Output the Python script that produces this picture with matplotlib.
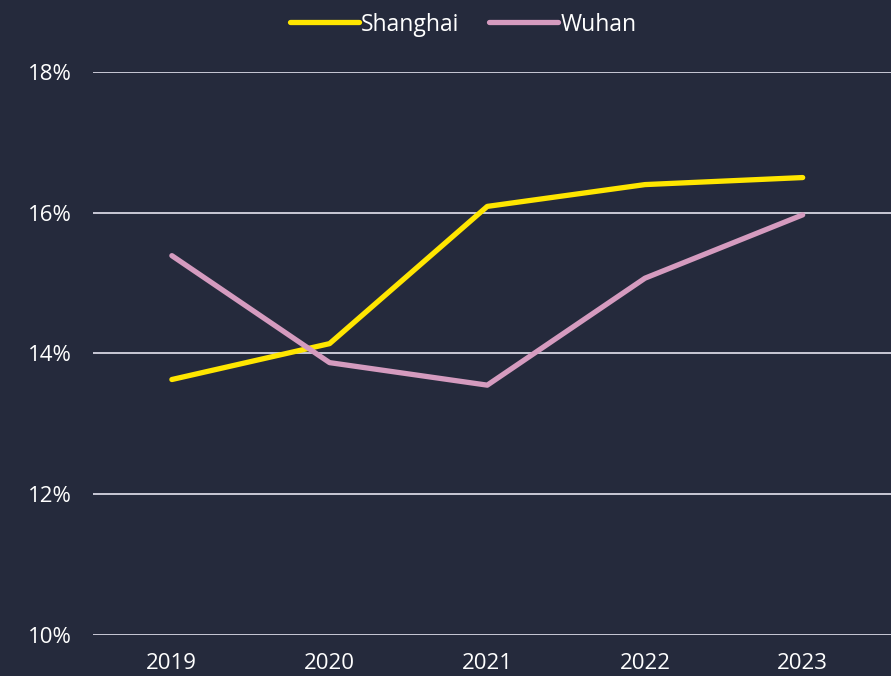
import matplotlib.pyplot as plt

years = ['2019', '2020', '2021', '2022', '2023']
shanghai = [13.63, 14.14, 16.09, 16.40, 16.50]
wuhan = [15.39, 13.87, 13.55, 15.07, 15.97]
yticks = [10, 12, 14, 16, 18]

bg = '#252a3c'
plt.rcParams['font.family'] = ['Open Sans', 'DejaVu Sans']

fig = plt.figure(figsize=(8.91, 6.76), dpi=100, facecolor=bg)
ax = fig.add_axes([0.1044, 0.0607, 0.8956, 0.8328], facecolor=bg)

x = range(len(years))
ax.plot(x, shanghai, color='#ffe600', lw=3.8, label='Shanghai', solid_capstyle='round')
ax.plot(x, wuhan, color='#d59bbf', lw=3.8, label='Wuhan', solid_capstyle='round')

ax.set_xlim(-0.5, 4.56)
ax.set_ylim(10, 18)
ax.set_xticks(list(x))
ax.set_xticklabels(years)
ax.set_yticks(yticks)
ax.set_yticklabels([f'{v}%' for v in yticks])
ax.grid(axis='y', color='#c9c9d6', lw=1.4)
ax.set_axisbelow(True)
for s in ax.spines.values():
    s.set_visible(False)
ax.tick_params(length=0, colors='white', labelsize=16)
ax.tick_params(axis='y', pad=15)
ax.tick_params(axis='x', pad=13)

leg = fig.legend(loc='upper center', bbox_to_anchor=(0.52, 1.012), ncol=2, frameon=False,
                 fontsize=16.5, handlelength=3.0, handletextpad=0.1, columnspacing=1.3)
for t in leg.get_texts():
    t.set_color('white')

fig.savefig('out.png', facecolor=bg)
